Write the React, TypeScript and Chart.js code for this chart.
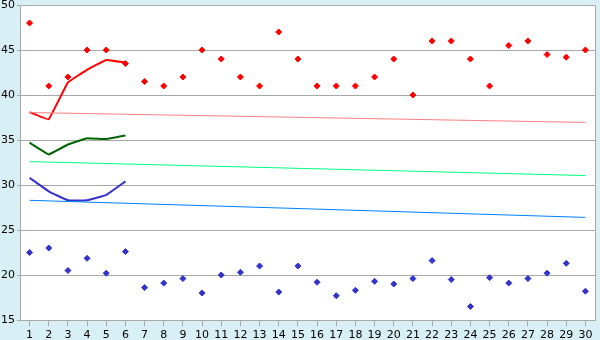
import React, { useEffect, useRef } from "react";
import { Chart, registerables } from "chart.js";

Chart.register(...registerables);

const categories = ["1","2","3","4","5","6","7","8","9","10","11","12","13","14","15","16","17","18","19","20","21","22","23","24","25","26","27","28","29","30"];

const redPoints = [48,41,42,45,45,43.5,41.5,41,42,45,44,42,41,47,44,41,41,41,42,44,40,46,46,44,41,45.5,46,44.5,44.2,45];
const bluePoints = [22.5,23,20.5,21.85,20.2,22.6,18.6,19.1,19.6,18,20,20.3,21,18.1,21,19.2,17.7,18.3,19.3,19,19.6,21.6,19.5,16.5,19.7,19.1,19.6,20.2,21.3,18.2];

const redLine = [38.1,37.3,41.4,42.8,43.9,43.6];
const greenLine = [34.7,33.4,34.5,35.2,35.1,35.5];
const blueLine = [30.8,29.3,28.3,28.3,28.9,30.4];

const pinkTrend = [38.05, 36.95];
const greenTrend = [32.6, 31.05];
const blueTrend = [28.3, 26.4];

const yTicksMin = 15;
const yTicksMax = 50;
const yStep = 5;

const BG = "#d9eff6";
const GRID = "#a8a8a8";

const bgPlugin = {
  id: "bgPlugin",
  beforeDraw(chart: any) {
    const { ctx, chartArea: a } = chart;
    ctx.save();
    ctx.fillStyle = BG;
    ctx.fillRect(0, 0, chart.width, chart.height);
    ctx.fillStyle = "#ffffff";
    ctx.fillRect(a.left, a.top, a.right - a.left, a.bottom - a.top);
    ctx.restore();
  },
  beforeDatasetsDraw(chart: any) {
    const { ctx, chartArea: a } = chart;
    ctx.save();
    ctx.strokeStyle = GRID;
    ctx.lineWidth = 1;
    ctx.beginPath();
    ctx.moveTo(a.left, a.top + 0.5);
    ctx.lineTo(a.right + 0.5, a.top + 0.5);
    ctx.lineTo(a.right + 0.5, a.bottom);
    ctx.stroke();
    ctx.restore();
  },
};

function trend(vals: number[]) {
  return [
    { x: categories[0], y: vals[0] },
    { x: categories[categories.length - 1], y: vals[1] },
  ];
}

export default function App() {
  const ref = useRef<HTMLCanvasElement | null>(null);
  useEffect(() => {
    document.body.style.margin = "0";
    const font = { family: "'DejaVu Sans', Verdana, sans-serif", size: 11 };
    const chart = new Chart(ref.current as HTMLCanvasElement, {
      type: "line",
      data: {
        labels: categories,
        datasets: [
          { data: trend(pinkTrend) as any, borderColor: "#ff8080", borderWidth: 1, pointRadius: 0, fill: false },
          { data: trend(greenTrend) as any, borderColor: "#00ff80", borderWidth: 1, pointRadius: 0, fill: false },
          { data: trend(blueTrend) as any, borderColor: "#0080ff", borderWidth: 1, pointRadius: 0, fill: false },
          { data: redLine, borderColor: "#ff0000", borderWidth: 2, pointRadius: 0, tension: 0.05, fill: false },
          { data: greenLine, borderColor: "#006600", borderWidth: 2, pointRadius: 0, tension: 0.05, fill: false },
          { data: blueLine, borderColor: "#3333cc", borderWidth: 2, pointRadius: 0, tension: 0.1, fill: false },
          { data: redPoints, showLine: false, pointStyle: "rectRot", pointRadius: 3, backgroundColor: "#ff0000", borderColor: "#ff0000", borderWidth: 1 },
          { data: bluePoints, showLine: false, pointStyle: "rectRot", pointRadius: 3, backgroundColor: "#3333cc", borderColor: "#3333cc", borderWidth: 1 },
        ],
      },
      options: {
        responsive: false,
        animation: false,
        layout: { padding: { top: 5, right: 5, left: 0, bottom: 0 } },
        plugins: { legend: { display: false }, tooltip: { enabled: false } },
        scales: {
          x: {
            type: "category",
            offset: true,
            grid: { display: true, drawOnChartArea: false, drawTicks: true, tickLength: 6, offset: false, color: GRID },
            border: { color: GRID },
            ticks: { color: "#000", font, padding: 3, maxRotation: 0, autoSkip: false },
            afterFit: (s: any) => { s.height = 20; s.paddingLeft = 0; s.paddingRight = 0; },
          },
          y: {
            min: yTicksMin,
            max: yTicksMax,
            grid: { color: GRID, tickLength: 3 },
            border: { color: GRID },
            ticks: { stepSize: yStep, color: "#000", font, padding: 2 },
            afterFit: (s: any) => { s.width = 20; s.paddingTop = 0; s.paddingBottom = 0; },
          },
        },
      },
      plugins: [bgPlugin],
    });
    return () => chart.destroy();
  }, []);
  return (
    <div style={{ width: 600, height: 340 }}>
      <canvas ref={ref} width={600} height={340} />
    </div>
  );
}
